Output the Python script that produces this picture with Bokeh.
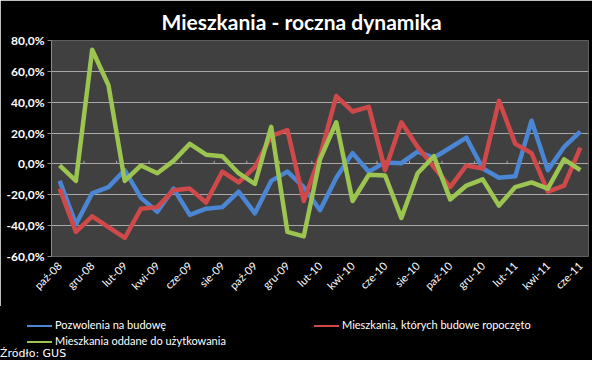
import math
from bokeh.plotting import figure
from bokeh.layouts import column
from bokeh.models import Range1d, FixedTicker, Div
from bokeh.embed import file_html
from bokeh.resources import INLINE

months = ["paź-08", "lis-08", "gru-08", "sty-09", "lut-09", "mar-09", "kwi-09", "maj-09",
          "cze-09", "lip-09", "sie-09", "wrz-09", "paź-09", "lis-09", "gru-09", "sty-10",
          "lut-10", "mar-10", "kwi-10", "maj-10", "cze-10", "lip-10", "sie-10", "wrz-10",
          "paź-10", "lis-10", "gru-10", "sty-11", "lut-11", "mar-11", "kwi-11", "maj-11",
          "cze-11"]

pozwolenia = [-11, -39, -19, -15, -4, -22, -31, -16, -33, -29, -28, -18, -32, -11, -5, -15,
              -30, -9, 7, -5, 1, 0.5, 8, 4, 10.5, 17, -3, -9, -8, 28, -4, 11, 21]
rozpoczete = [-16, -44, -34, -41, -48, -29, -28, -17, -16, -25, -5, -12, -2, 18, 22, -24,
              5, 44, 34, 37, -4, 27, 11, -2, -15, -1, -3, 41, 13, 7, -18, -14, 10.5]
oddane = [-1, -11, 74, 51, -11, -1, -6, 2, 13, 6, 5, -6, -13, 24, -44, -47,
          3, 27, -24, -7, -7.5, -35, -6, 5, -23, -14, -10, -27, -15, -12, -16, 3, -4]

series_names = ["Pozwolenia na budowę", "Mieszkania, których budowe ropoczęto",
                "Mieszkania oddane  do użytkowania"]
y_ticks = [-60, -40, -20, 0, 20, 40, 60, 80]
title_text = "Mieszkania - roczna dynamika"
source_text = "Źródło: GUS"

colors = ["#4A86D4", "#D0494A", "#9BC451"]
FONT = "Lato"

x = list(range(len(months)))
label_idx = list(range(0, len(months), 2))

# ---------------- main chart ----------------
p = figure(width=592, height=306, output_backend="svg", toolbar_location=None,
           x_range=Range1d(-0.5, len(months) - 0.5), y_range=Range1d(-60, 80),
           background_fill_color="#404040", border_fill_color="black",
           min_border_left=51, min_border_right=4, min_border_top=34, min_border_bottom=50,
           outline_line_color=None)

p.title.text = title_text
p.title.align = "left"
p.title.offset = 110
p.title.standoff = 13
p.title.text_color = "white"
p.title.text_font = FONT
p.title.text_font_style = "bold"
p.title.text_font_size = "21px"

p.yaxis.ticker = FixedTicker(ticks=y_ticks)
p.yaxis.major_label_overrides = {v: f"{v},0%" for v in y_ticks}
p.yaxis.major_label_text_color = "white"
p.yaxis.major_label_text_font = FONT
p.yaxis.major_label_text_font_style = "bold"
p.yaxis.major_label_text_font_size = "12px"
p.yaxis.axis_line_color = "#8C8C8C"
p.yaxis.major_tick_line_color = "#8C8C8C"
p.yaxis.major_tick_out = 4
p.yaxis.major_tick_in = 0
p.yaxis.minor_tick_line_color = None
p.yaxis.major_label_standoff = 3

p.xaxis.ticker = FixedTicker(ticks=label_idx)
p.xaxis.major_label_overrides = {i: months[i] for i in label_idx}
p.xaxis.major_label_orientation = math.pi / 4
p.xaxis.major_label_text_color = "white"
p.xaxis.major_label_text_font = FONT
p.xaxis.major_label_text_font_size = "11px"
p.xaxis.axis_line_color = None
p.xaxis.major_tick_line_color = None
p.xaxis.minor_tick_line_color = None
p.xaxis.major_tick_out = 0
p.xaxis.major_tick_in = 0
p.xaxis.minor_tick_out = 0
p.xaxis.major_label_standoff = 7

p.xgrid.grid_line_color = None
p.ygrid.grid_line_color = "#A8A8A8"
p.ygrid.grid_line_width = 1

# category-axis tick marks on the zero line
bounds = [k - 0.5 for k in range(2, len(months), 2)]
p.segment(x0=bounds, y0=[0] * len(bounds), x1=bounds, y1=[2] * len(bounds),
          line_color="#A8A8A8", line_width=1)

for vals, c in zip([pozwolenia, rozpoczete, oddane], colors):
    p.line(x, vals, line_color=c, line_width=4.5, line_join="round")

# ---------------- legend strip (HTML) ----------------
def legend_item(left, top, color, label):
    return (f'<div style="position:absolute;left:{left}px;top:{top}px;height:16px;'
            f'line-height:16px;white-space:nowrap;">'
            f'<span style="display:inline-block;width:25px;height:0;'
            f'border-top:2px solid {color};vertical-align:middle;margin-right:3px;"></span>'
            f'{label}</div>')

slots = [(27, 11), (314, 11), (27, 27)]
items_html = "".join(legend_item(l, t, c, n) for (l, t), c, n in zip(slots, colors, series_names))
source_html = (f'<div style="position:absolute;left:0px;top:41px;font-family:\'DejaVu Sans\';'
               f'font-size:11px;line-height:13px;white-space:nowrap;">{source_text}</div>')
html = (f'<div style="position:relative;width:592px;height:54px;background:black;color:white;'
        f'font-family:{FONT};font-size:11px;">{items_html}{source_html}</div>')

legend_div = Div(text=html, width=592, height=54, margin=0,
                 styles={"background-color": "black"})

layout = column(p, legend_div, spacing=0)
open("out.html", "w").write(file_html(layout, INLINE))
